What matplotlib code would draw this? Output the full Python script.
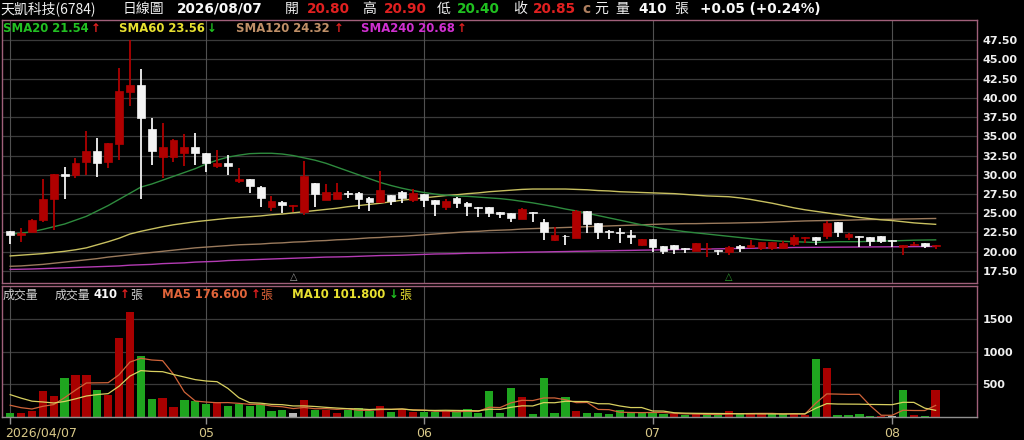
import numpy as np
import pandas as pd
import matplotlib
matplotlib.use('Agg')
import matplotlib.pyplot as plt
from matplotlib.transforms import blended_transform_factory

plt.rcParams['font.family'] = ['DejaVu Sans']
CJK = ['Noto Sans CJK TC', 'DejaVu Sans']

# ---- daily candles (2026/04/07 .. 2026/08/07) ----
opens = [22.75, 22.2, 22.6, 24.1, 26.9, 30.1, 30.0, 31.6, 33.1, 31.6,
         34.0, 40.8, 41.7, 35.9, 32.35, 32.35, 32.8, 33.6, 32.8, 31.2,
         31.5, 29.25, 29.45, 28.45, 25.85, 26.5, 25.95, 25.2, 28.9, 26.7,
         26.8, 27.65, 27.65, 26.95, 26.5, 27.35, 27.8, 26.7, 27.45, 26.7,
         25.8, 27.0, 26.35, 25.8, 25.75, 25.15, 25.0, 24.25, 25.1, 23.9,
         21.55, 22.1, 21.8, 25.3, 23.7, 22.6, 22.6, 22.15, 20.9, 21.6,
         20.75, 20.85, 20.45, 20.1, 20.45, 20.25, 20.0, 20.75, 20.65, 20.45,
         20.5, 20.45, 21.0, 21.75, 21.95, 22.05, 23.8, 21.9, 22.05, 21.95,
         22.05, 21.55, 20.65, 20.9, 21.1, 20.8]
highs = [22.75, 23.1, 24.2, 29.5, 30.1, 31.05, 32.15, 35.7, 34.75, 34.2,
         43.85, 47.5, 43.7, 37.35, 36.7, 34.65, 35.25, 35.5, 32.85, 33.2,
         32.55, 30.85, 29.5, 28.5, 27.25, 26.55, 26.1, 31.8, 28.95, 28.8,
         28.95, 27.95, 27.7, 27.05, 30.5, 27.4, 27.85, 28.1, 27.5, 26.75,
         26.85, 27.05, 26.4, 25.85, 25.8, 25.2, 25.05, 25.65, 25.15, 24.2,
         23.15, 22.15, 25.4, 25.35, 23.75, 22.85, 23.05, 22.8, 21.65, 21.65,
         20.8, 20.9, 20.5, 21.1, 21.1, 20.25, 20.8, 20.85, 21.5, 21.3,
         21.3, 21.4, 22.15, 21.95, 21.95, 24.05, 23.85, 22.45, 22.05, 21.95,
         22.05, 21.55, 20.9, 21.2, 21.1, 20.9]
lows = [21.0, 21.3, 22.5, 23.9, 22.8, 26.8, 29.55, 30.0, 29.75, 30.9,
        31.9, 39.0, 26.9, 31.3, 29.6, 31.7, 31.2, 31.3, 30.4, 30.9,
        30.0, 28.9, 27.65, 25.85, 25.3, 25.05, 25.2, 24.8, 25.85, 26.7,
        26.8, 26.95, 25.5, 25.3, 26.3, 26.05, 26.3, 26.5, 25.75, 24.65,
        25.4, 25.65, 24.7, 24.55, 24.55, 24.35, 23.8, 24.25, 23.8, 21.5,
        21.45, 20.9, 21.8, 22.4, 21.6, 21.6, 21.1, 21.0, 20.75, 19.9,
        19.7, 19.7, 19.8, 20.1, 19.3, 19.6, 19.6, 19.9, 20.45, 20.2,
        20.2, 20.45, 20.8, 21.1, 20.85, 21.6, 21.95, 21.5, 20.65, 20.75,
        21.1, 20.65, 19.6, 20.75, 20.45, 20.4]
closes = [22.2, 22.45, 24.1, 26.9, 30.1, 29.9, 31.55, 33.1, 31.55, 34.1,
          40.9, 41.7, 37.35, 33.1, 33.6, 34.5, 33.6, 32.8, 31.5, 31.55,
          31.2, 29.5, 28.55, 27.0, 26.6, 26.05, 26.05, 29.85, 27.45, 27.7,
          27.8, 27.55, 26.85, 26.5, 28.0, 26.65, 27.0, 27.6, 26.7, 26.2,
          26.6, 26.3, 25.95, 25.7, 25.0, 24.95, 24.35, 25.5, 25.0, 22.6,
          22.15, 22.0, 25.3, 23.6, 22.6, 22.55, 22.4, 21.9, 21.6, 20.6,
          20.15, 20.35, 20.3, 21.1, 20.5, 20.15, 20.65, 20.5, 20.85, 21.3,
          21.25, 21.15, 21.85, 21.95, 21.5, 23.75, 22.5, 22.25, 21.95, 21.4,
          21.45, 21.45, 20.85, 21.0, 20.8, 20.85]
volume = [67, 65, 98, 396, 324, 592, 643, 643, 406, 334,
          1199, 1610, 936, 273, 283, 160, 257, 247, 195, 231,
          170, 200, 170, 200, 98, 113, 62, 257, 103, 103,
          62, 103, 139, 98, 165, 77, 123, 82, 77, 77,
          87, 77, 118, 67, 396, 62, 437, 309, 51, 592,
          67, 298, 87, 67, 57, 51, 103, 67, 57, 67,
          51, 41, 26, 41, 41, 41, 87, 41, 57, 51,
          41, 41, 51, 36, 890, 746, 25, 30, 45, 15,
          20, 20, 415, 25, 13, 410]
# volumes of the 9 sessions before the window (needed for MA5 / MA10)
prior_volume = [600, 560, 520, 480, 360, 250, 200, 190, 190]

# ---- price moving averages ----
sma20 = [22.3, 22.4, 22.6, 22.9, 23.25, 23.6, 24.1, 24.6, 25.3, 26.0,
         26.8, 27.6, 28.4, 28.8, 29.3, 29.8, 30.3, 30.8, 31.4, 31.9,
         32.3, 32.55, 32.75, 32.8, 32.8, 32.7, 32.5, 32.2, 31.9, 31.5,
         31.0, 30.5, 30.0, 29.5, 29.0, 28.6, 28.25, 27.95, 27.7, 27.5,
         27.35, 27.25, 27.2, 27.1, 27.0, 26.9, 26.75, 26.55, 26.35, 26.1,
         25.85, 25.55, 25.3, 25.0, 24.7, 24.4, 24.1, 23.8, 23.5, 23.25,
         23.0, 22.8, 22.6, 22.45, 22.3, 22.15, 22.0, 21.85, 21.7, 21.55,
         21.45, 21.35, 21.3, 21.25, 21.2, 21.25, 21.3, 21.3, 21.3, 21.35,
         21.4, 21.4, 21.45, 21.5, 21.52, 21.54]
sma60 = [19.45, 19.55, 19.65, 19.75, 19.9, 20.05, 20.25, 20.5, 20.9, 21.3,
         21.75, 22.3, 22.65, 22.95, 23.25, 23.5, 23.7, 23.9, 24.05, 24.2,
         24.35, 24.45, 24.55, 24.65, 24.8, 24.9, 25.05, 25.2, 25.35, 25.5,
         25.65, 25.85, 26.0, 26.15, 26.3, 26.5, 26.7, 26.85, 27.0, 27.15,
         27.3, 27.4, 27.55, 27.65, 27.8, 27.9, 28.0, 28.1, 28.15, 28.15,
         28.15, 28.15, 28.1, 28.05, 27.95, 27.9, 27.8, 27.75, 27.7, 27.65,
         27.6, 27.55, 27.45, 27.35, 27.25, 27.2, 27.15, 27.0, 26.8, 26.55,
         26.3, 26.0, 25.7, 25.45, 25.25, 25.05, 24.85, 24.65, 24.45, 24.3,
         24.15, 24.05, 23.9, 23.75, 23.65, 23.56]
sma120 = [18.1, 18.15, 18.25, 18.35, 18.5, 18.65, 18.8, 18.95, 19.1, 19.3,
          19.45, 19.6, 19.75, 19.9, 20.05, 20.2, 20.35, 20.5, 20.6, 20.7,
          20.8, 20.9, 20.95, 21.0, 21.1, 21.15, 21.25, 21.3, 21.4, 21.45,
          21.55, 21.6, 21.7, 21.8, 21.85, 21.95, 22.0, 22.1, 22.2, 22.3,
          22.4, 22.5, 22.6, 22.65, 22.75, 22.8, 22.85, 22.95, 23.0, 23.05,
          23.1, 23.15, 23.2, 23.25, 23.3, 23.35, 23.4, 23.45, 23.5, 23.55,
          23.6, 23.62, 23.65, 23.65, 23.68, 23.7, 23.72, 23.75, 23.78, 23.8,
          23.85, 23.9, 23.95, 24.0, 24.03, 24.05, 24.08, 24.1, 24.15, 24.18,
          24.2, 24.22, 24.25, 24.27, 24.3, 24.32]
sma240 = [17.7, 17.72, 17.75, 17.8, 17.85, 17.9, 17.95, 18.0, 18.05, 18.1,
          18.15, 18.25, 18.3, 18.35, 18.45, 18.5, 18.55, 18.65, 18.7, 18.75,
          18.85, 18.9, 18.95, 19.0, 19.05, 19.1, 19.15, 19.2, 19.25, 19.3,
          19.32, 19.35, 19.4, 19.45, 19.5, 19.52, 19.55, 19.6, 19.65, 19.7,
          19.72, 19.75, 19.8, 19.82, 19.85, 19.87, 19.9, 19.92, 19.95, 19.97,
          20.0, 20.02, 20.05, 20.07, 20.1, 20.12, 20.15, 20.17, 20.2, 20.22,
          20.25, 20.27, 20.3, 20.32, 20.35, 20.37, 20.4, 20.42, 20.45, 20.47,
          20.5, 20.52, 20.55, 20.56, 20.57, 20.58, 20.59, 20.6, 20.61, 20.62,
          20.63, 20.64, 20.65, 20.66, 20.67, 20.68]

month_labels = ['2026/04/07', '05', '06', '07', '08']
month_pos = [0, 18, 38, 59, 81]
signal_pos = [26, 66]  # small triangle markers under the candles

W, H = 1024, 440
RED = '#b00000'
WHITE = '#f4f4f4'
GREEN_VOL = '#1fa51f'
GRID = '#3a3a3a'
VGRID = '#505050'
BORDER = '#a0607a'

fig = plt.figure(figsize=(W / 100, H / 100), dpi=100, facecolor='black')
ax1 = fig.add_axes([2 / W, 1 - 283 / H, 975 / W, 263 / H], facecolor='black')
ax2 = fig.add_axes([2 / W, 1 - 417 / H, 975 / W, 131 / H], facecolor='black')

x = np.arange(len(closes))
o = np.array(opens)
c = np.array(closes)
up = c >= o

# ---- price panel ----
price_ticks = np.arange(17.5, 47.6, 2.5)
for t in price_ticks:
    ax1.axhline(t, color=GRID, lw=0.9, zorder=0)
for p in month_pos:
    ax1.axvline(p, color=VGRID, lw=0.8, zorder=0)

ax1.plot(x, sma240, color='#b43cb4', lw=1.0, zorder=1)
ax1.plot(x, sma120, color='#9a7a5c', lw=1.0, zorder=1)
ax1.plot(x, sma60, color='#c8c060', lw=1.0, zorder=1)
ax1.plot(x, sma20, color='#2e8b3e', lw=1.0, zorder=1)

ccol = np.where(up, RED, WHITE)
ax1.vlines(x, lows, highs, colors=ccol, lw=1.3, zorder=2)
body_h = np.maximum(np.abs(c - o), 0.08)
ax1.bar(x, body_h, bottom=np.minimum(o, c), width=0.72, color=ccol,
        edgecolor=ccol, linewidth=0.5, zorder=3)

ax1.text(signal_pos[0], 16.75, '△', color='#a0a0a0', ha='center', va='center',
         fontsize=7)
ax1.text(signal_pos[1], 16.75, '△', color='#2fa02f', ha='center', va='center',
         fontsize=7)

ax1.set_xlim(-0.75, 88.8)
ax1.set_ylim(15.93, 50.13)
ax1.yaxis.tick_right()
ax1.set_yticks(price_ticks)
ax1.set_yticklabels(['%.2f' % t for t in price_ticks])
ax1.tick_params(axis='y', length=0, pad=4, labelcolor='#f0f0f0',
                labelsize=8)
for lab in ax1.get_yticklabels():
    lab.set_fontweight('bold')
ax1.set_xticks([])
for s in ax1.spines.values():
    s.set_color(BORDER)
    s.set_linewidth(1)

# ---- volume panel ----
vol = np.array(volume)
allv = pd.Series(prior_volume + volume, dtype=float)
ma5 = allv.rolling(5).mean().to_numpy()[len(prior_volume):]
ma10 = allv.rolling(10).mean().to_numpy()[len(prior_volume):]

prev_close = np.concatenate([[opens[0]], c[:-1]])
vcol = np.where(c > prev_close, '#a80000',
                np.where(c < prev_close, GREEN_VOL, '#b8b8b8'))

for t in [500, 1000, 1500]:
    ax2.axhline(t, color=GRID, lw=0.9, zorder=0)
for p in month_pos:
    ax2.axvline(p, color=VGRID, lw=0.8, zorder=0)

ax2.bar(x, vol, width=0.76, color=vcol, zorder=2)
ax2.plot(x, ma5, color='#d0643a', lw=0.9, zorder=3)
ax2.plot(x, ma10, color='#d8d060', lw=0.9, zorder=3)

ax2.set_xlim(-0.75, 88.8)
ax2.set_ylim(0, 2000)
ax2.yaxis.tick_right()
ax2.set_yticks([500, 1000, 1500])
ax2.set_yticklabels(['500', '1000', '1500'])
ax2.tick_params(axis='y', length=0, pad=4, labelcolor='#f0f0f0', labelsize=8)
for lab in ax2.get_yticklabels():
    lab.set_fontweight('bold')
ax2.set_xticks(month_pos)
ax2.set_xticklabels([])
ax2.tick_params(axis='x', length=5, color='#909090', width=1)
for s in ax2.spines.values():
    s.set_color(BORDER)
    s.set_linewidth(1)
ax2.spines['bottom'].set_color('#909090')

trans = blended_transform_factory(ax2.transData, fig.transFigure)
for p, lab in zip(month_pos, month_labels):
    if p == 0:
        ax2.text(p - 0.45, 1 - 433 / H, lab, transform=trans, ha='left',
                 va='center', color='#d8c888', fontsize=9)
    else:
        ax2.text(p, 1 - 433 / H, lab, transform=trans, ha='center',
                 va='center', color='#d8c888', fontsize=9)


# ---- header texts ----
def put(px, py, s, color, size=9.8, bold=True, cjk=False):
    fig.text(px / W, 1 - py / H, s, color=color, fontsize=size,
             fontweight='bold' if bold else 'normal',
             family=CJK if cjk else 'DejaVu Sans', ha='left', va='center')


ty = 9
put(0, ty, '天凱科技(6784)', '#f0f0f0', 10, False, True)
put(123, ty, '日線圖', '#f0f0f0', 10, False, True)
put(177, ty, '2026/08/07', '#f8f8f8', 9.8)
put(285, ty, '開', '#f0f0f0', 10, False, True)
put(307, ty, '20.80', '#e02020', 9.8)
put(362, ty, '高', '#f0f0f0', 10, False, True)
put(384, ty, '20.90', '#e02020', 9.8)
put(437, ty, '低', '#f0f0f0', 10, False, True)
put(457, ty, '20.40', '#20c020', 9.8)
put(513, ty, '收', '#f0f0f0', 10, False, True)
put(533, ty, '20.85', '#e02020', 9.8)
put(582, ty, 'c', '#b08060', 9.8)
put(594, ty, '元', '#f0f0f0', 10, False, True)
put(615, ty, '量', '#f0f0f0', 10, False, True)
put(638, ty, '410', '#f8f8f8', 9.8)
put(674, ty, '張', '#f0f0f0', 10, False, True)
put(700, ty, '+0.05 (+0.24%)', '#f8f8f8', 9.8)

ly = 28
put(3, ly, 'SMA20 21.54', '#22c022', 8.4)
put(91, ly, '↑', '#e02020', 8.4)
put(119, ly, 'SMA60 23.56', '#e8e030', 8.4)
put(207, ly, '↓', '#20c020', 8.4)
put(236, ly, 'SMA120 24.32', '#c09068', 8.4)
put(334, ly, '↑', '#e02020', 8.4)
put(361, ly, 'SMA240 20.68', '#d030d0', 8.4)
put(457, ly, '↑', '#e02020', 8.4)

vy = 295
put(3, vy, '成交量', '#d0d0d0', 8.6, False, True)
put(55, vy, '成交量', '#d0d0d0', 8.6, False, True)
put(93, vy, '410', '#f8f8f8', 8.4)
put(120, vy, '↑', '#e02020', 8.4)
put(130, vy, '張', '#d0d0d0', 8.6, False, True)
put(162, vy, 'MA5 176.600', '#e0643a', 8.4)
put(251, vy, '↑', '#e02020', 8.4)
put(260, vy, '張', '#e0643a', 8.6, False, True)
put(292, vy, 'MA10 101.800', '#e8e030', 8.4)
put(389, vy, '↓', '#20c020', 8.4)
put(399, vy, '張', '#e8e030', 8.6, False, True)

fig.savefig('out.png', dpi=100, facecolor='black')
